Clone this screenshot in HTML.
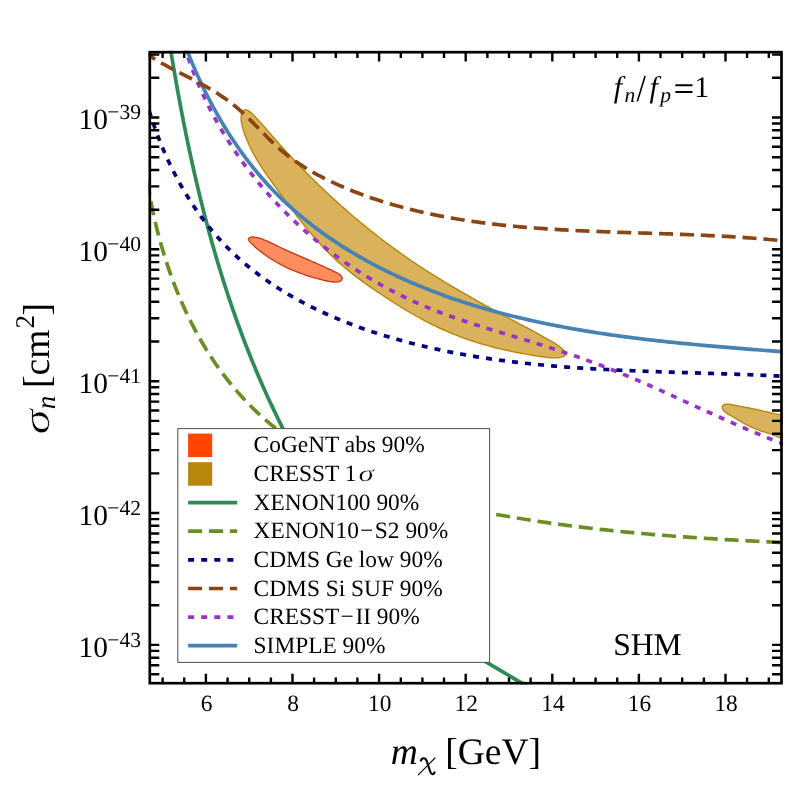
<!DOCTYPE html>
<html><head><meta charset="utf-8"><title>plot</title>
<style>html,body{margin:0;padding:0;background:#fff;}svg{display:block;will-change:transform;transform:translateZ(0);}text{text-rendering:geometricPrecision;}text{font-family:"Liberation Serif",serif;fill:#000;}</style>
</head><body>
<svg width="789" height="789" viewBox="0 0 789 789">
<rect width="789" height="789" fill="#fff"/>
<defs><clipPath id="cp"><rect x="148.4" y="50.8" width="634.5" height="633.8"/></clipPath></defs>
<g clip-path="url(#cp)" fill="none" stroke-linecap="butt" stroke-linejoin="round">
<path d="M244.17 109.95 L246.03 109.71 L248.18 110.60 L250.51 112.32 L252.94 114.57 L255.35 117.05 L257.68 119.53 L259.91 121.95 L262.05 124.32 L264.13 126.64 L266.14 128.92 L268.11 131.17 L270.05 133.40 L271.96 135.61 L273.87 137.80 L275.78 140.00 L277.71 142.19 L279.66 144.38 L281.62 146.57 L283.60 148.77 L285.60 150.96 L287.62 153.15 L289.64 155.34 L291.69 157.52 L293.74 159.71 L295.81 161.89 L297.89 164.06 L299.99 166.23 L302.09 168.40 L304.20 170.56 L306.33 172.71 L308.46 174.85 L310.60 176.99 L312.74 179.11 L314.90 181.23 L317.06 183.34 L319.23 185.44 L321.40 187.52 L323.58 189.60 L325.77 191.67 L327.97 193.74 L330.17 195.79 L332.38 197.83 L334.60 199.86 L336.82 201.88 L339.06 203.89 L341.30 205.90 L343.54 207.89 L345.80 209.87 L348.06 211.85 L350.33 213.81 L352.61 215.76 L354.89 217.70 L357.18 219.64 L359.48 221.56 L361.79 223.47 L364.11 225.37 L366.43 227.27 L368.76 229.15 L371.10 231.02 L373.45 232.88 L375.81 234.73 L378.17 236.57 L380.54 238.40 L382.92 240.22 L385.31 242.03 L387.71 243.83 L390.11 245.61 L392.52 247.39 L394.94 249.16 L397.37 250.91 L399.81 252.66 L402.26 254.39 L404.71 256.11 L407.18 257.82 L409.65 259.52 L412.13 261.21 L414.62 262.89 L417.12 264.56 L419.62 266.22 L422.14 267.86 L424.66 269.50 L427.19 271.13 L429.72 272.74 L432.26 274.35 L434.81 275.95 L437.37 277.54 L439.93 279.12 L442.50 280.69 L445.07 282.25 L447.64 283.80 L450.23 285.35 L452.81 286.89 L455.41 288.42 L458.00 289.94 L460.60 291.45 L463.20 292.96 L465.81 294.46 L468.42 295.95 L471.04 297.44 L473.65 298.92 L476.27 300.39 L478.89 301.86 L481.51 303.32 L484.14 304.78 L486.76 306.23 L489.39 307.67 L492.02 309.11 L494.65 310.55 L497.28 311.97 L499.91 313.40 L502.54 314.82 L505.17 316.24 L507.80 317.65 L510.43 319.06 L513.06 320.46 L515.68 321.86 L518.31 323.26 L520.93 324.65 L523.55 326.05 L526.18 327.44 L528.80 328.84 L531.43 330.24 L534.07 331.66 L536.72 333.10 L539.38 334.55 L542.05 336.02 L544.73 337.52 L547.44 339.05 L550.16 340.61 L552.90 342.20 L555.63 343.86 L558.26 345.60 L560.74 347.46 L562.99 349.48 L564.77 351.59 L565.61 353.60 L565.12 355.31 L563.32 356.57 L560.56 357.34 L557.36 357.73 L554.17 357.84 L551.05 357.74 L547.98 357.48 L544.95 357.12 L541.94 356.71 L538.93 356.28 L535.93 355.83 L532.94 355.37 L529.95 354.88 L526.96 354.38 L523.99 353.85 L521.02 353.31 L518.06 352.75 L515.10 352.16 L512.16 351.56 L509.22 350.94 L506.28 350.29 L503.36 349.62 L500.44 348.93 L497.53 348.22 L494.62 347.48 L491.73 346.72 L488.84 345.94 L485.96 345.14 L483.09 344.31 L480.23 343.46 L477.38 342.58 L474.53 341.67 L471.70 340.75 L468.87 339.79 L466.05 338.81 L463.24 337.80 L460.44 336.77 L457.65 335.71 L454.87 334.62 L452.09 333.51 L449.33 332.36 L446.58 331.19 L443.84 329.99 L441.10 328.76 L438.38 327.50 L435.67 326.22 L432.96 324.90 L430.27 323.56 L427.59 322.20 L424.92 320.81 L422.26 319.39 L419.60 317.95 L416.96 316.49 L414.33 315.01 L411.71 313.51 L409.10 311.99 L406.50 310.45 L403.91 308.90 L401.33 307.33 L398.76 305.74 L396.20 304.14 L393.65 302.53 L391.11 300.90 L388.58 299.26 L386.06 297.61 L383.55 295.96 L381.05 294.29 L378.57 292.61 L376.09 290.93 L373.62 289.24 L371.17 287.55 L368.72 285.84 L366.29 284.12 L363.87 282.40 L361.47 280.65 L359.08 278.89 L356.70 277.12 L354.35 275.32 L352.01 273.51 L349.68 271.67 L347.38 269.81 L345.10 267.93 L342.83 266.02 L340.59 264.08 L338.36 262.11 L336.16 260.11 L333.99 258.08 L331.83 256.01 L329.69 253.92 L327.58 251.80 L325.49 249.65 L323.41 247.48 L321.36 245.28 L319.33 243.06 L317.31 240.82 L315.31 238.56 L313.33 236.27 L311.36 233.97 L309.42 231.66 L307.48 229.32 L305.57 226.98 L303.66 224.62 L301.77 222.24 L299.90 219.86 L298.04 217.47 L296.19 215.07 L294.35 212.66 L292.53 210.25 L290.71 207.84 L288.91 205.42 L287.12 203.00 L285.34 200.58 L283.56 198.16 L281.80 195.74 L280.04 193.32 L278.29 190.91 L276.54 188.51 L274.81 186.11 L273.08 183.72 L271.36 181.34 L269.65 178.95 L267.95 176.56 L266.27 174.16 L264.61 171.75 L262.97 169.32 L261.36 166.87 L259.77 164.40 L258.22 161.90 L256.69 159.36 L255.20 156.79 L253.74 154.18 L252.33 151.52 L250.95 148.82 L249.63 146.06 L248.35 143.24 L247.11 140.37 L245.94 137.43 L244.81 134.41 L243.75 131.33 L242.77 128.20 L241.96 125.07 L241.37 122.00 L241.08 119.05 L241.16 116.26 L241.68 113.69 L242.69 111.44Z" fill="#DAB25B" stroke="#B8860B" stroke-width="1.4"/>
<path d="M722.16 406.69 L723.53 404.88 L726.04 404.11 L729.11 404.23 L732.43 404.83 L735.72 405.49 L738.90 406.10 L741.99 406.68 L745.00 407.23 L747.95 407.78 L750.86 408.33 L753.74 408.91 L756.61 409.51 L759.49 410.16 L762.39 410.85 L765.32 411.57 L768.27 412.28 L771.26 412.96 L774.29 413.59 L777.37 414.14 L780.50 414.58 L783.68 414.89 L786.86 415.17 L789.91 415.65 L792.69 416.61 L795.07 418.28 L796.95 420.84 L798.30 424.08 L799.13 427.75 L799.47 431.58 L799.30 435.31 L798.65 438.68 L797.51 441.42 L795.90 443.28 L793.82 444.00 L791.34 443.63 L788.56 442.49 L785.60 440.89 L782.56 439.18 L779.54 437.64 L776.55 436.29 L773.61 435.10 L770.70 434.04 L767.83 433.07 L764.99 432.15 L762.19 431.24 L759.41 430.30 L756.68 429.31 L753.97 428.22 L751.28 427.01 L748.61 425.70 L745.95 424.31 L743.28 422.84 L740.59 421.31 L737.87 419.73 L735.12 418.13 L732.31 416.50 L729.45 414.87 L726.66 413.19 L724.27 411.31 L722.60 409.09Z" fill="#DAB25B" stroke="#B8860B" stroke-width="1.4"/>
<path d="M248.42 239.02 L249.81 237.37 L252.57 236.88 L255.95 237.33 L259.34 238.20 L262.42 239.19 L265.25 240.29 L267.92 241.46 L270.50 242.68 L273.07 243.94 L275.70 245.21 L278.39 246.49 L281.13 247.77 L283.91 249.06 L286.72 250.34 L289.54 251.62 L292.37 252.89 L295.20 254.14 L298.01 255.38 L300.80 256.60 L303.55 257.79 L306.25 258.96 L308.92 260.11 L311.58 261.25 L314.23 262.40 L316.89 263.56 L319.58 264.75 L322.30 265.96 L325.08 267.23 L327.93 268.55 L330.86 269.93 L333.89 271.39 L336.97 272.93 L339.73 274.59 L341.68 276.40 L342.33 278.40 L341.32 280.48 L338.94 281.81 L335.76 282.08 L332.31 281.77 L329.05 281.29 L326.00 280.75 L323.10 280.14 L320.28 279.47 L317.47 278.74 L314.64 277.95 L311.78 277.11 L308.91 276.21 L306.03 275.26 L303.15 274.26 L300.28 273.21 L297.42 272.12 L294.58 270.97 L291.77 269.79 L288.99 268.56 L286.25 267.29 L283.55 265.97 L280.89 264.61 L278.27 263.20 L275.68 261.73 L273.13 260.20 L270.60 258.62 L268.10 256.97 L265.63 255.26 L263.18 253.47 L260.76 251.61 L258.35 249.68 L255.96 247.66 L253.58 245.56 L251.22 243.37 L249.15 241.14Z" fill="#FF8C5E" stroke="#C23A0C" stroke-width="1.3"/>
<path d="M182.89 41.20 L183.77 44.15 L184.68 47.09 L185.60 50.02 L186.56 52.93 L187.53 55.84 L188.52 58.74 L189.54 61.63 L190.58 64.50 L191.64 67.37 L192.72 70.22 L193.82 73.07 L194.94 75.90 L196.09 78.73 L197.25 81.54 L198.44 84.34 L199.65 87.13 L200.87 89.91 L202.12 92.68 L203.39 95.43 L204.68 98.18 L205.99 100.91 L207.32 103.63 L208.67 106.35 L210.04 109.04 L211.43 111.73 L212.84 114.41 L214.27 117.07 L215.71 119.72 L217.18 122.36 L218.67 124.99 L220.17 127.61 L221.70 130.21 L223.24 132.80 L224.80 135.38 L226.38 137.95 L227.98 140.50 L229.60 143.04 L231.23 145.57 L232.89 148.09 L234.56 150.59 L236.25 153.08 L237.96 155.56 L239.68 158.02 L241.42 160.47 L243.18 162.91 L244.96 165.33 L246.75 167.74 L248.57 170.14 L250.39 172.52 L252.24 174.90 L254.10 177.25 L255.98 179.60 L257.87 181.92 L259.79 184.24 L261.71 186.54 L263.66 188.83 L265.62 191.10 L267.59 193.36 L269.58 195.61 L271.59 197.84 L273.61 200.05 L275.65 202.26 L277.71 204.44 L279.77 206.61 L281.86 208.77 L283.96 210.92 L286.07 213.04 L288.20 215.16 L290.34 217.26 L292.50 219.34 L294.67 221.41 L296.86 223.46 L299.06 225.50 L301.27 227.52 L303.50 229.53 L305.75 231.52 L308.00 233.49 L310.27 235.45 L312.55 237.40 L314.85 239.33 L317.16 241.24 L319.48 243.14 L321.82 245.02 L324.17 246.88 L326.53 248.73 L328.90 250.56 L331.29 252.38 L333.69 254.18 L336.10 255.96 L338.53 257.72 L340.96 259.47 L343.41 261.21 L345.87 262.92 L348.34 264.62 L350.82 266.30 L353.32 267.97 L355.82 269.62 L358.34 271.25 L360.87 272.86 L363.41 274.46 L365.96 276.04 L368.52 277.60 L371.09 279.14 L373.68 280.67 L376.27 282.18 L378.87 283.67 L381.49 285.14 L384.11 286.60 L386.74 288.03 L389.39 289.45 L392.04 290.85 L394.70 292.24 L397.38 293.60 L400.06 294.95 L402.75 296.28 L405.45 297.59 L408.16 298.88 L410.88 300.15 L413.60 301.40 L416.34 302.64 L419.08 303.85 L421.84 305.05 L424.60 306.23 L427.37 307.38 L430.15 308.52 L432.93 309.64 L435.73 310.75 L438.53 311.83 L441.33 312.90 L444.15 313.95 L446.97 314.99 L449.80 316.01 L452.63 317.02 L455.47 318.01 L458.31 318.99 L461.16 319.96 L464.01 320.92 L466.87 321.87 L469.73 322.81 L472.60 323.74 L475.47 324.66 L478.34 325.58 L481.21 326.48 L484.09 327.38 L486.97 328.28 L489.85 329.17 L492.73 330.05 L495.61 330.93 L498.50 331.81 L501.38 332.69 L504.27 333.56 L507.15 334.44 L510.04 335.31 L512.92 336.19 L515.80 337.06 L518.69 337.94 L521.57 338.82 L524.45 339.70 L527.32 340.59 L530.20 341.48 L533.08 342.37 L535.95 343.27 L538.82 344.17 L541.69 345.07 L544.56 345.98 L547.42 346.90 L550.28 347.81 L553.14 348.74 L556.00 349.67 L558.86 350.61 L561.71 351.55 L564.56 352.50 L567.41 353.46 L570.25 354.42 L573.09 355.39 L575.93 356.37 L578.77 357.36 L581.60 358.35 L584.42 359.36 L587.25 360.37 L590.07 361.39 L592.89 362.43 L595.70 363.47 L598.51 364.52 L601.32 365.58 L604.12 366.66 L606.91 367.74 L609.71 368.83 L612.50 369.94 L615.28 371.05 L618.06 372.18 L620.84 373.31 L623.62 374.45 L626.39 375.60 L629.16 376.76 L631.93 377.92 L634.69 379.09 L637.45 380.27 L640.21 381.46 L642.97 382.65 L645.72 383.85 L648.47 385.06 L651.22 386.26 L653.97 387.48 L656.72 388.70 L659.46 389.92 L662.21 391.15 L664.95 392.38 L667.69 393.62 L670.43 394.85 L673.17 396.09 L675.91 397.34 L678.65 398.58 L681.39 399.83 L684.12 401.08 L686.86 402.32 L689.60 403.57 L692.34 404.82 L695.07 406.07 L697.81 407.32 L700.55 408.57 L703.29 409.82 L706.03 411.07 L708.77 412.31 L711.51 413.55 L714.26 414.80 L717.00 416.03 L719.75 417.27 L722.49 418.50 L725.24 419.73 L727.99 420.95 L730.75 422.17 L733.50 423.39 L736.26 424.60 L739.02 425.80 L741.78 427.00 L744.55 428.20 L747.31 429.38 L750.08 430.56 L752.86 431.74 L755.63 432.90 L758.41 434.06 L761.20 435.21 L763.98 436.35 L766.78 437.49 L769.57 438.61 L772.37 439.73 L775.17 440.83 L777.98 441.93 L780.79 443.02 L783.61 444.09 L786.43 445.15 L789.25 446.21 L792.08 447.25" stroke="#9932CC" stroke-width="3.7" stroke-dasharray="6 7.1" stroke-dashoffset="-4.0"/>
<path d="M182.08 37.16 L183.11 39.99 L184.16 42.82 L185.22 45.65 L186.30 48.47 L187.40 51.29 L188.51 54.10 L189.63 56.91 L190.78 59.72 L191.94 62.51 L193.12 65.31 L194.31 68.09 L195.52 70.87 L196.75 73.65 L197.99 76.41 L199.25 79.17 L200.53 81.92 L201.83 84.67 L203.14 87.40 L204.47 90.13 L205.81 92.85 L207.18 95.56 L208.56 98.27 L209.96 100.96 L211.37 103.64 L212.80 106.31 L214.25 108.98 L215.72 111.63 L217.20 114.27 L218.71 116.90 L220.23 119.52 L221.76 122.13 L223.32 124.72 L224.89 127.31 L226.48 129.88 L228.09 132.43 L229.71 134.98 L231.36 137.51 L233.02 140.03 L234.70 142.54 L236.40 145.03 L238.11 147.50 L239.85 149.96 L241.60 152.41 L243.37 154.84 L245.16 157.26 L246.97 159.66 L248.79 162.04 L250.63 164.41 L252.50 166.76 L254.38 169.10 L256.28 171.41 L258.20 173.71 L260.13 175.99 L262.09 178.26 L264.06 180.50 L266.05 182.73 L268.07 184.94 L270.10 187.13 L272.15 189.30 L274.22 191.45 L276.30 193.58 L278.41 195.69 L280.53 197.78 L282.67 199.86 L284.83 201.91 L287.01 203.95 L289.20 205.97 L291.41 207.96 L293.64 209.94 L295.88 211.90 L298.15 213.85 L300.42 215.77 L302.71 217.68 L305.02 219.56 L307.35 221.43 L309.68 223.28 L312.04 225.11 L314.41 226.93 L316.79 228.73 L319.19 230.51 L321.60 232.27 L324.03 234.01 L326.46 235.74 L328.92 237.44 L331.38 239.13 L333.86 240.81 L336.35 242.46 L338.86 244.10 L341.37 245.73 L343.90 247.33 L346.44 248.92 L349.00 250.49 L351.56 252.04 L354.13 253.58 L356.72 255.10 L359.32 256.60 L361.92 258.09 L364.54 259.56 L367.17 261.02 L369.81 262.45 L372.45 263.88 L375.11 265.28 L377.78 266.67 L380.45 268.05 L383.13 269.40 L385.83 270.75 L388.53 272.07 L391.24 273.38 L393.95 274.68 L396.68 275.96 L399.41 277.22 L402.15 278.47 L404.89 279.70 L407.64 280.92 L410.40 282.12 L413.17 283.31 L415.94 284.48 L418.72 285.64 L421.50 286.78 L424.29 287.91 L427.08 289.03 L429.88 290.12 L432.69 291.21 L435.50 292.28 L438.31 293.33 L441.13 294.38 L443.95 295.40 L446.78 296.42 L449.61 297.42 L452.45 298.40 L455.29 299.38 L458.14 300.34 L460.99 301.28 L463.84 302.22 L466.70 303.14 L469.56 304.04 L472.43 304.94 L475.30 305.82 L478.18 306.69 L481.06 307.55 L483.94 308.39 L486.83 309.22 L489.72 310.05 L492.61 310.85 L495.51 311.65 L498.41 312.44 L501.31 313.21 L504.22 313.97 L507.13 314.72 L510.05 315.46 L512.97 316.19 L515.89 316.91 L518.81 317.61 L521.74 318.31 L524.67 319.00 L527.60 319.67 L530.54 320.33 L533.48 320.99 L536.42 321.63 L539.36 322.27 L542.31 322.89 L545.26 323.51 L548.21 324.11 L551.16 324.71 L554.12 325.29 L557.08 325.87 L560.04 326.44 L563.00 327.00 L565.96 327.55 L568.93 328.09 L571.90 328.62 L574.87 329.14 L577.84 329.66 L580.82 330.17 L583.79 330.66 L586.77 331.16 L589.75 331.64 L592.73 332.11 L595.71 332.58 L598.69 333.04 L601.67 333.49 L604.66 333.94 L607.65 334.38 L610.63 334.81 L613.62 335.23 L616.61 335.65 L619.60 336.06 L622.59 336.46 L625.58 336.86 L628.58 337.25 L631.57 337.64 L634.56 338.01 L637.56 338.39 L640.55 338.75 L643.55 339.11 L646.54 339.47 L649.54 339.82 L652.53 340.16 L655.53 340.50 L658.53 340.84 L661.52 341.17 L664.52 341.49 L667.51 341.81 L670.51 342.13 L673.50 342.44 L676.50 342.74 L679.49 343.04 L682.49 343.34 L685.48 343.63 L688.47 343.92 L691.46 344.21 L694.45 344.49 L697.44 344.77 L700.43 345.04 L703.42 345.32 L706.41 345.58 L709.40 345.85 L712.38 346.11 L715.37 346.37 L718.35 346.63 L721.33 346.88 L724.31 347.13 L727.29 347.38 L730.27 347.63 L733.24 347.88 L736.22 348.12 L739.19 348.36 L742.16 348.60 L745.13 348.84 L748.09 349.07 L751.06 349.31 L754.02 349.54 L756.98 349.77 L759.94 350.01 L762.90 350.24 L765.85 350.47 L768.80 350.69 L771.75 350.92 L774.70 351.15 L777.64 351.38 L780.59 351.61 L783.52 351.83 L786.46 352.06 L789.39 352.29" stroke="#4682B4" stroke-width="3.7"/>
<path d="M168.40 36.06 L168.87 39.02 L169.34 41.98 L169.82 44.94 L170.30 47.89 L170.79 50.85 L171.27 53.81 L171.77 56.77 L172.26 59.73 L172.76 62.69 L173.26 65.65 L173.77 68.60 L174.28 71.56 L174.79 74.52 L175.30 77.48 L175.82 80.44 L176.35 83.39 L176.88 86.35 L177.41 89.31 L177.94 92.26 L178.48 95.22 L179.03 98.17 L179.58 101.13 L180.13 104.08 L180.69 107.03 L181.25 109.99 L181.81 112.94 L182.38 115.89 L182.96 118.84 L183.54 121.79 L184.12 124.74 L184.71 127.69 L185.30 130.64 L185.90 133.58 L186.50 136.53 L187.10 139.47 L187.72 142.42 L188.33 145.36 L188.95 148.30 L189.58 151.25 L190.21 154.19 L190.85 157.12 L191.49 160.06 L192.14 163.00 L192.79 165.94 L193.45 168.87 L194.11 171.80 L194.78 174.73 L195.45 177.67 L196.13 180.59 L196.82 183.52 L197.51 186.45 L198.20 189.37 L198.90 192.30 L199.61 195.22 L200.32 198.14 L201.04 201.06 L201.77 203.98 L202.50 206.89 L203.24 209.81 L203.98 212.72 L204.73 215.63 L205.48 218.54 L206.25 221.45 L207.01 224.35 L207.79 227.26 L208.57 230.16 L209.36 233.06 L210.15 235.95 L210.95 238.85 L211.76 241.74 L212.57 244.64 L213.39 247.53 L214.22 250.41 L215.05 253.30 L215.89 256.18 L216.74 259.07 L217.59 261.95 L218.45 264.82 L219.32 267.70 L220.20 270.57 L221.08 273.44 L221.97 276.31 L222.86 279.17 L223.77 282.04 L224.68 284.90 L225.60 287.76 L226.52 290.61 L227.46 293.46 L228.40 296.31 L229.35 299.16 L230.30 302.01 L231.27 304.85 L232.24 307.69 L233.22 310.53 L234.21 313.36 L235.20 316.19 L236.20 319.02 L237.22 321.85 L238.23 324.67 L239.26 327.49 L240.30 330.31 L241.34 333.12 L242.39 335.94 L243.45 338.74 L244.52 341.55 L245.60 344.35 L246.68 347.15 L247.78 349.95 L248.88 352.74 L249.99 355.53 L251.11 358.31 L252.24 361.10 L253.38 363.88 L254.52 366.65 L255.68 369.43 L256.84 372.20 L258.01 374.96 L259.19 377.72 L260.38 380.48 L261.58 383.24 L262.79 385.99 L264.01 388.74 L265.24 391.49 L266.48 394.23 L267.72 396.96 L268.98 399.70 L270.24 402.43 L271.52 405.15 L272.80 407.88 L274.09 410.60 L275.40 413.31 L276.71 416.02 L278.03 418.73 L279.36 421.43 L280.71 424.13 L282.06 426.83 L283.42 429.52 L284.79 432.20 L286.18 434.89 L287.57 437.57 L288.97 440.24 L290.38 442.91" stroke="#2E8B57" stroke-width="3.7"/>
<path d="M460.0 646.7L545.0 696.8" stroke="#2E8B57" stroke-width="3.7"/>
<path d="M146.17 172.34 L146.57 175.24 L146.98 178.14 L147.41 181.05 L147.86 183.95 L148.33 186.86 L148.81 189.77 L149.31 192.69 L149.82 195.60 L150.35 198.52 L150.90 201.43 L151.47 204.35 L152.05 207.26 L152.65 210.18 L153.27 213.10 L153.90 216.01 L154.55 218.92 L155.23 221.84 L155.91 224.75 L156.62 227.66 L157.34 230.57 L158.08 233.47 L158.84 236.38 L159.62 239.28 L160.41 242.17 L161.23 245.07 L162.06 247.96 L162.91 250.84 L163.78 253.72 L164.66 256.60 L165.57 259.47 L166.49 262.34 L167.44 265.20 L168.40 268.06 L169.38 270.90 L170.38 273.75 L171.40 276.58 L172.44 279.41 L173.50 282.24 L174.57 285.05 L175.67 287.86 L176.78 290.66 L177.92 293.45 L179.07 296.23 L180.25 299.01 L181.44 301.77 L182.66 304.53 L183.89 307.27 L185.15 310.01 L186.42 312.74 L187.71 315.45 L189.03 318.16 L190.37 320.85 L191.72 323.53 L193.10 326.20 L194.49 328.86 L195.91 331.51 L197.35 334.14 L198.81 336.76 L200.29 339.37 L201.79 341.96 L203.31 344.54 L204.86 347.11 L206.42 349.66 L208.01 352.20 L209.62 354.72 L211.24 357.23 L212.89 359.73 L214.57 362.20 L216.26 364.67 L217.98 367.11 L219.71 369.54 L221.47 371.95 L223.26 374.35 L225.06 376.73 L226.89 379.09 L228.73 381.43 L230.61 383.75 L232.50 386.06 L234.41 388.35 L236.35 390.61 L238.31 392.86 L240.30 395.09 L242.30 397.30 L244.33 399.49 L246.39 401.66 L248.46 403.81 L250.56 405.94 L252.68 408.04 L254.83 410.13 L257.00 412.19 L259.19 414.23 L261.41 416.25 L263.65 418.25 L265.91 420.22 L268.20 422.17 L270.51 424.09 L272.84 426.00 L275.20 427.87 L277.59 429.73 L280.00 431.56 L282.43 433.36 L284.88 435.14 L287.36 436.89 L289.87 438.62 L292.40 440.32 L294.95 442.00 L297.53 443.65 L300.14 445.27" stroke="#6B8E23" stroke-width="3.7" stroke-dasharray="14 6.9" stroke-dashoffset="-8.6"/>
<path d="M491.98 513.62 L494.95 514.16 L497.93 514.71 L500.92 515.24 L503.90 515.77 L506.88 516.29 L509.87 516.80 L512.85 517.30 L515.84 517.80 L518.82 518.30 L521.81 518.78 L524.80 519.26 L527.79 519.74 L530.78 520.20 L533.77 520.66 L536.77 521.12 L539.76 521.56 L542.75 522.01 L545.75 522.44 L548.75 522.87 L551.74 523.29 L554.74 523.71 L557.74 524.12 L560.74 524.53 L563.74 524.93 L566.74 525.32 L569.74 525.71 L572.74 526.10 L575.74 526.47 L578.75 526.84 L581.75 527.21 L584.76 527.57 L587.76 527.93 L590.77 528.28 L593.78 528.63 L596.78 528.97 L599.79 529.30 L602.80 529.63 L605.81 529.96 L608.82 530.28 L611.83 530.59 L614.84 530.90 L617.85 531.21 L620.87 531.51 L623.88 531.81 L626.89 532.10 L629.90 532.39 L632.92 532.67 L635.93 532.95 L638.95 533.23 L641.96 533.50 L644.98 533.77 L648.00 534.03 L651.01 534.29 L654.03 534.54 L657.05 534.79 L660.06 535.04 L663.08 535.28 L666.10 535.52 L669.12 535.76 L672.14 535.99 L675.16 536.22 L678.18 536.44 L681.20 536.67 L684.22 536.88 L687.24 537.10 L690.26 537.31 L693.28 537.52 L696.30 537.72 L699.32 537.93 L702.34 538.13 L705.36 538.32 L708.39 538.52 L711.41 538.71 L714.43 538.89 L717.45 539.08 L720.47 539.26 L723.50 539.44 L726.52 539.62 L729.54 539.79 L732.56 539.97 L735.59 540.14 L738.61 540.30 L741.63 540.47 L744.65 540.63 L747.68 540.79 L750.70 540.95 L753.72 541.11 L756.74 541.26 L759.77 541.42 L762.79 541.57 L765.81 541.72 L768.83 541.87 L771.85 542.01 L774.88 542.16 L777.90 542.30 L780.92 542.44 L783.94 542.58 L786.96 542.72 L789.98 542.86" stroke="#6B8E23" stroke-width="3.7" stroke-dasharray="14 6.9" stroke-dashoffset="16.6"/>
<path d="M146.07 99.83 L146.86 102.67 L147.67 105.52 L148.50 108.36 L149.35 111.21 L150.23 114.05 L151.14 116.89 L152.06 119.74 L153.02 122.58 L153.99 125.42 L154.99 128.25 L156.01 131.09 L157.06 133.92 L158.13 136.74 L159.22 139.56 L160.34 142.37 L161.48 145.18 L162.64 147.98 L163.83 150.78 L165.04 153.57 L166.28 156.34 L167.54 159.11 L168.82 161.88 L170.13 164.63 L171.46 167.37 L172.81 170.10 L174.19 172.82 L175.59 175.52 L177.01 178.22 L178.46 180.90 L179.93 183.57 L181.42 186.22 L182.94 188.86 L184.48 191.49 L186.05 194.10 L187.63 196.69 L189.25 199.27 L190.88 201.83 L192.54 204.37 L194.22 206.89 L195.92 209.40 L197.65 211.88 L199.40 214.35 L201.18 216.79 L202.97 219.22 L204.80 221.62 L206.64 224.00 L208.51 226.36 L210.40 228.70 L212.31 231.01 L214.25 233.30 L216.21 235.56 L218.19 237.80 L220.20 240.01 L222.23 242.20 L224.28 244.36 L226.35 246.50 L228.45 248.61 L230.57 250.70 L232.70 252.76 L234.86 254.79 L237.05 256.81 L239.25 258.79 L241.47 260.76 L243.71 262.70 L245.97 264.61 L248.25 266.50 L250.55 268.37 L252.87 270.22 L255.21 272.04 L257.57 273.84 L259.94 275.61 L262.33 277.36 L264.74 279.10 L267.17 280.80 L269.61 282.49 L272.07 284.15 L274.54 285.79 L277.03 287.41 L279.54 289.01 L282.06 290.59 L284.60 292.14 L287.15 293.68 L289.72 295.19 L292.30 296.68 L294.89 298.15 L297.50 299.61 L300.12 301.04 L302.75 302.45 L305.40 303.84 L308.06 305.21 L310.73 306.56 L313.41 307.89 L316.11 309.21 L318.81 310.50 L321.53 311.77 L324.26 313.03 L326.99 314.27 L329.74 315.48 L332.50 316.68 L335.27 317.87 L338.04 319.03 L340.83 320.18 L343.62 321.30 L346.42 322.41 L349.23 323.51 L352.05 324.58 L354.88 325.64 L357.71 326.68 L360.55 327.71 L363.39 328.72 L366.25 329.71 L369.10 330.69 L371.97 331.65 L374.84 332.59 L377.71 333.52 L380.59 334.43 L383.47 335.33 L386.36 336.21 L389.25 337.08 L392.15 337.93 L395.05 338.77 L397.95 339.59 L400.85 340.40 L403.76 341.19 L406.67 341.97 L409.58 342.74 L412.50 343.49 L415.41 344.22 L418.33 344.95 L421.26 345.66 L424.18 346.36 L427.11 347.04 L430.04 347.71 L432.97 348.37 L435.91 349.02 L438.84 349.65 L441.78 350.27 L444.72 350.88 L447.67 351.48 L450.61 352.06 L453.56 352.63 L456.51 353.19 L459.46 353.74 L462.42 354.28 L465.37 354.81 L468.33 355.32 L471.29 355.83 L474.25 356.32 L477.21 356.80 L480.18 357.28 L483.15 357.74 L486.11 358.19 L489.08 358.63 L492.06 359.06 L495.03 359.49 L498.01 359.90 L500.98 360.30 L503.96 360.69 L506.94 361.08 L509.92 361.45 L512.90 361.82 L515.89 362.18 L518.87 362.52 L521.86 362.86 L524.85 363.20 L527.84 363.52 L530.83 363.83 L533.82 364.14 L536.81 364.44 L539.81 364.73 L542.80 365.02 L545.80 365.29 L548.80 365.56 L551.79 365.83 L554.79 366.08 L557.79 366.33 L560.79 366.57 L563.79 366.81 L566.80 367.04 L569.80 367.26 L572.80 367.48 L575.81 367.69 L578.81 367.89 L581.82 368.09 L584.82 368.29 L587.83 368.48 L590.84 368.66 L593.85 368.84 L596.85 369.01 L599.86 369.18 L602.87 369.35 L605.88 369.51 L608.89 369.66 L611.90 369.81 L614.91 369.96 L617.92 370.11 L620.93 370.25 L623.94 370.38 L626.95 370.51 L629.96 370.64 L632.97 370.77 L635.99 370.89 L639.00 371.01 L642.01 371.13 L645.02 371.25 L648.03 371.36 L651.04 371.47 L654.05 371.58 L657.06 371.68 L660.07 371.79 L663.08 371.89 L666.09 371.99 L669.09 372.09 L672.10 372.19 L675.11 372.28 L678.12 372.38 L681.12 372.48 L684.13 372.57 L687.13 372.66 L690.14 372.76 L693.14 372.85 L696.15 372.94 L699.15 373.04 L702.15 373.13 L705.15 373.22 L708.15 373.32 L711.15 373.41 L714.15 373.51 L717.15 373.60 L720.14 373.70 L723.14 373.80 L726.13 373.90 L729.12 374.00 L732.12 374.10 L735.11 374.21 L738.10 374.31 L741.09 374.42 L744.07 374.53 L747.06 374.65 L750.04 374.76 L753.03 374.88 L756.01 375.00 L758.99 375.12 L761.97 375.25 L764.95 375.38 L767.92 375.51 L770.90 375.65 L773.87 375.79 L776.84 375.94 L779.81 376.08 L782.78 376.24 L785.74 376.39 L788.71 376.55 L791.67 376.72" stroke="#000080" stroke-width="3.7" stroke-dasharray="6 7.1" stroke-dashoffset="2.0"/>
<path d="M140.22 48.66 L142.58 50.55 L144.98 52.38 L147.41 54.15 L149.88 55.87 L152.38 57.53 L154.91 59.15 L157.47 60.72 L160.05 62.26 L162.65 63.76 L165.28 65.22 L167.92 66.67 L170.57 68.08 L173.24 69.48 L175.91 70.86 L178.59 72.23 L181.28 73.60 L183.97 74.95 L186.66 76.31 L189.34 77.67 L192.02 79.04 L194.69 80.43 L197.35 81.82 L199.99 83.24 L202.62 84.68 L205.24 86.13 L207.84 87.61 L210.42 89.12 L212.98 90.65 L215.52 92.22 L218.04 93.81 L220.53 95.44 L223.00 97.09 L225.44 98.79 L227.85 100.52 L230.24 102.29 L232.59 104.10 L234.91 105.96 L237.20 107.86 L239.45 109.80 L241.68 111.79 L243.87 113.81 L246.04 115.87 L248.19 117.95 L250.33 120.06 L252.45 122.18 L254.56 124.32 L256.67 126.47 L258.77 128.62 L260.88 130.77 L262.99 132.92 L265.11 135.07 L267.23 137.20 L269.37 139.32 L271.53 141.42 L273.70 143.50 L275.90 145.54 L278.12 147.56 L280.37 149.55 L282.65 151.49 L284.97 153.40 L287.31 155.26 L289.69 157.09 L292.09 158.88 L294.53 160.63 L296.99 162.34 L299.48 164.02 L301.99 165.66 L304.53 167.26 L307.09 168.84 L309.67 170.38 L312.28 171.88 L314.90 173.36 L317.54 174.81 L320.20 176.22 L322.88 177.61 L325.57 178.97 L328.28 180.30 L331.00 181.60 L333.74 182.88 L336.48 184.13 L339.24 185.36 L342.00 186.56 L344.78 187.75 L347.56 188.91 L350.35 190.04 L353.14 191.16 L355.94 192.26 L358.75 193.33 L361.57 194.38 L364.39 195.42 L367.21 196.43 L370.04 197.42 L372.88 198.40 L375.73 199.35 L378.58 200.29 L381.43 201.20 L384.29 202.10 L387.16 202.98 L390.03 203.84 L392.91 204.68 L395.79 205.50 L398.67 206.30 L401.57 207.09 L404.46 207.86 L407.36 208.62 L410.27 209.35 L413.18 210.07 L416.09 210.78 L419.01 211.46 L421.93 212.13 L424.86 212.79 L427.79 213.43 L430.73 214.05 L433.66 214.66 L436.61 215.26 L439.55 215.84 L442.50 216.40 L445.45 216.96 L448.41 217.49 L451.36 218.02 L454.33 218.53 L457.29 219.03 L460.26 219.51 L463.23 219.98 L466.20 220.44 L469.17 220.88 L472.15 221.32 L475.13 221.74 L478.11 222.15 L481.09 222.55 L484.08 222.94 L487.07 223.31 L490.06 223.68 L493.05 224.04 L496.04 224.38 L499.03 224.72 L502.03 225.04 L505.02 225.36 L508.02 225.66 L511.02 225.96 L514.02 226.24 L517.02 226.52 L520.02 226.79 L523.02 227.06 L526.02 227.31 L529.02 227.55 L532.03 227.79 L535.03 228.02 L538.03 228.25 L541.04 228.46 L544.04 228.67 L547.04 228.88 L550.04 229.07 L553.05 229.26 L556.05 229.45 L559.05 229.63 L562.05 229.80 L565.05 229.97 L568.06 230.13 L571.06 230.29 L574.06 230.44 L577.06 230.59 L580.06 230.73 L583.06 230.87 L586.07 231.01 L589.07 231.14 L592.07 231.27 L595.07 231.39 L598.07 231.51 L601.07 231.63 L604.07 231.75 L607.07 231.86 L610.08 231.97 L613.08 232.08 L616.08 232.19 L619.08 232.29 L622.08 232.39 L625.08 232.49 L628.08 232.59 L631.08 232.69 L634.08 232.79 L637.08 232.89 L640.08 232.98 L643.08 233.08 L646.08 233.18 L649.08 233.27 L652.08 233.37 L655.08 233.47 L658.08 233.57 L661.08 233.66 L664.08 233.76 L667.08 233.87 L670.08 233.97 L673.08 234.07 L676.08 234.18 L679.08 234.29 L682.08 234.40 L685.08 234.51 L688.08 234.63 L691.08 234.75 L694.08 234.87 L697.08 234.99 L700.08 235.12 L703.08 235.25 L706.08 235.39 L709.08 235.53 L712.08 235.67 L715.08 235.82 L718.08 235.97 L721.08 236.13 L724.08 236.29 L727.07 236.46 L730.07 236.64 L733.07 236.82 L736.07 237.00 L739.07 237.19 L742.07 237.39 L745.07 237.59 L748.07 237.80 L751.07 238.02 L754.07 238.24 L757.07 238.47 L760.07 238.71 L763.07 238.96 L766.06 239.21 L769.06 239.47 L772.06 239.74 L775.06 240.02 L778.06 240.31 L781.06 240.60 L784.06 240.91 L787.06 241.22 L790.06 241.55" stroke="#8B4513" stroke-width="3.7" stroke-dasharray="14 6.9" stroke-dashoffset="-4.3"/>
</g>
<rect x="177.8" y="428.6" width="311.8" height="233.8" fill="#fff" stroke="#4d4d4d" stroke-width="1"/>
<rect x="188.1" y="433.6" width="24.1" height="23.5" fill="#FF4500"/>
<text x="253.6" y="452.3" font-size="23.4">CoGeNT abs 90%</text>
<rect x="188.1" y="462.2" width="24.1" height="23.5" fill="#B8860B"/>
<text x="253.6" y="480.9" font-size="23.4">CRESST 1</text>
<line x1="188.1" y1="502.6" x2="237.2" y2="502.6" stroke="#2E8B57" stroke-width="3.7"/>
<text x="253.6" y="509.6" font-size="23.4">XENON100 90%</text>
<line x1="188.1" y1="531.2" x2="237.2" y2="531.2" stroke="#6B8E23" stroke-width="3.7" stroke-dasharray="14 6.9"/>
<text x="253.6" y="538.2" font-size="23.4">XENON10<tspan dx="1.2">−</tspan><tspan dx="1.6">S2 90%</tspan></text>
<line x1="188.1" y1="559.8" x2="237.2" y2="559.8" stroke="#000080" stroke-width="3.7" stroke-dasharray="6 7.1"/>
<text x="253.6" y="566.8" font-size="23.4">CDMS Ge low 90%</text>
<line x1="188.1" y1="588.5" x2="237.2" y2="588.5" stroke="#8B4513" stroke-width="3.7" stroke-dasharray="14 6.9"/>
<text x="253.6" y="595.5" font-size="23.4">CDMS Si SUF 90%</text>
<line x1="188.1" y1="617.1" x2="237.2" y2="617.1" stroke="#9932CC" stroke-width="3.7" stroke-dasharray="6 7.1"/>
<text x="253.6" y="624.1" font-size="23.4">CRESST<tspan dx="1.2">−</tspan><tspan dx="1.6">II 90%</tspan></text>
<line x1="188.1" y1="645.7" x2="237.2" y2="645.7" stroke="#4682B4" stroke-width="3.7"/>
<text x="253.6" y="652.7" font-size="23.4">SIMPLE 90%</text>
<text transform="translate(358.6,480.9) scale(1.32,1)" font-size="23.4" font-style="italic" stroke="#fff" stroke-width="0.3">σ</text>
<g stroke="#000" fill="none">
<rect x="149.8" y="52.2" width="631.7" height="631.0" stroke-width="2.7"/>
<path d="M162.6 683.2v-5.8 M162.6 52.2v5.8 M184.2 683.2v-5.8 M184.2 52.2v5.8 M205.9 683.2v-9.4 M205.9 52.2v9.4 M227.6 683.2v-5.8 M227.6 52.2v5.8 M249.2 683.2v-5.8 M249.2 52.2v5.8 M270.9 683.2v-5.8 M270.9 52.2v5.8 M292.5 683.2v-9.4 M292.5 52.2v9.4 M314.1 683.2v-5.8 M314.1 52.2v5.8 M335.8 683.2v-5.8 M335.8 52.2v5.8 M357.4 683.2v-5.8 M357.4 52.2v5.8 M379.1 683.2v-9.4 M379.1 52.2v9.4 M400.8 683.2v-5.8 M400.8 52.2v5.8 M422.4 683.2v-5.8 M422.4 52.2v5.8 M444.0 683.2v-5.8 M444.0 52.2v5.8 M465.7 683.2v-9.4 M465.7 52.2v9.4 M487.4 683.2v-5.8 M487.4 52.2v5.8 M509.0 683.2v-5.8 M509.0 52.2v5.8 M530.6 683.2v-5.8 M530.6 52.2v5.8 M552.3 683.2v-9.4 M552.3 52.2v9.4 M573.9 683.2v-5.8 M573.9 52.2v5.8 M595.6 683.2v-5.8 M595.6 52.2v5.8 M617.2 683.2v-5.8 M617.2 52.2v5.8 M638.9 683.2v-9.4 M638.9 52.2v9.4 M660.5 683.2v-5.8 M660.5 52.2v5.8 M682.2 683.2v-5.8 M682.2 52.2v5.8 M703.9 683.2v-5.8 M703.9 52.2v5.8 M725.5 683.2v-9.4 M725.5 52.2v9.4 M747.1 683.2v-5.8 M747.1 52.2v5.8 M768.8 683.2v-5.8 M768.8 52.2v5.8 M149.8 674.2h9.5 M781.5 674.2h-9.5 M149.8 665.3h9.5 M781.5 665.3h-9.5 M149.8 657.7h9.5 M781.5 657.7h-9.5 M149.8 650.9h9.5 M781.5 650.9h-9.5 M149.8 644.9h9.5 M781.5 644.9h-9.5 M149.8 605.2h9.5 M781.5 605.2h-9.5 M149.8 582.0h9.5 M781.5 582.0h-9.5 M149.8 565.5h9.5 M781.5 565.5h-9.5 M149.8 552.7h9.5 M781.5 552.7h-9.5 M149.8 542.3h9.5 M781.5 542.3h-9.5 M149.8 533.5h9.5 M781.5 533.5h-9.5 M149.8 525.8h9.5 M781.5 525.8h-9.5 M149.8 519.1h9.5 M781.5 519.1h-9.5 M149.8 513.0h9.5 M781.5 513.0h-9.5 M149.8 473.4h9.5 M781.5 473.4h-9.5 M149.8 450.1h9.5 M781.5 450.1h-9.5 M149.8 433.7h9.5 M781.5 433.7h-9.5 M149.8 420.9h9.5 M781.5 420.9h-9.5 M149.8 410.5h9.5 M781.5 410.5h-9.5 M149.8 401.6h9.5 M781.5 401.6h-9.5 M149.8 394.0h9.5 M781.5 394.0h-9.5 M149.8 387.2h9.5 M781.5 387.2h-9.5 M149.8 381.2h9.5 M781.5 381.2h-9.5 M149.8 341.5h9.5 M781.5 341.5h-9.5 M149.8 318.3h9.5 M781.5 318.3h-9.5 M149.8 301.8h9.5 M781.5 301.8h-9.5 M149.8 289.0h9.5 M781.5 289.0h-9.5 M149.8 278.6h9.5 M781.5 278.6h-9.5 M149.8 269.8h9.5 M781.5 269.8h-9.5 M149.8 262.1h9.5 M781.5 262.1h-9.5 M149.8 255.4h9.5 M781.5 255.4h-9.5 M149.8 249.3h9.5 M781.5 249.3h-9.5 M149.8 209.7h9.5 M781.5 209.7h-9.5 M149.8 186.4h9.5 M781.5 186.4h-9.5 M149.8 170.0h9.5 M781.5 170.0h-9.5 M149.8 157.2h9.5 M781.5 157.2h-9.5 M149.8 146.8h9.5 M781.5 146.8h-9.5 M149.8 137.9h9.5 M781.5 137.9h-9.5 M149.8 130.3h9.5 M781.5 130.3h-9.5 M149.8 123.5h9.5 M781.5 123.5h-9.5 M149.8 117.5h9.5 M781.5 117.5h-9.5 M149.8 77.8h9.5 M781.5 77.8h-9.5 M149.8 54.6h9.5 M781.5 54.6h-9.5 " stroke-width="2.4"/>
</g>
<text x="206.5" y="710.8" font-size="23.4" text-anchor="middle">6</text>
<text x="293.1" y="710.8" font-size="23.4" text-anchor="middle">8</text>
<text x="379.7" y="710.8" font-size="23.4" text-anchor="middle">10</text>
<text x="466.3" y="710.8" font-size="23.4" text-anchor="middle">12</text>
<text x="552.9" y="710.8" font-size="23.4" text-anchor="middle">14</text>
<text x="639.5" y="710.8" font-size="23.4" text-anchor="middle">16</text>
<text x="726.1" y="710.8" font-size="23.4" text-anchor="middle">18</text>
<text x="78.5" y="129.2" font-size="29.4">10</text>
<text x="107.3" y="119.2" font-size="21.5">−39</text>
<text x="78.5" y="261.1" font-size="29.4">10</text>
<text x="107.3" y="251.1" font-size="21.5">−40</text>
<text x="78.5" y="392.9" font-size="29.4">10</text>
<text x="107.3" y="382.9" font-size="21.5">−41</text>
<text x="78.5" y="524.8" font-size="29.4">10</text>
<text x="107.3" y="514.8" font-size="21.5">−42</text>
<text x="78.5" y="656.6" font-size="29.4">10</text>
<text x="107.3" y="646.6" font-size="21.5">−43</text>
<text x="390.8" y="763.6" font-size="37.5" font-style="italic">m</text>
<g fill="none" stroke="#000" stroke-linecap="round"><path d="M435.0 758.0L418.3 774.8" stroke-width="1.1"/><path d="M420.9 760.6C421.8 757.6 425.4 757.2 426.7 760.9L430.3 771.8C431.2 774.9 433.6 774.9 434.5 772.4" stroke-width="2.1"/></g>
<text x="445.3" y="763.6" font-size="37.5">[GeV]</text>
<g transform="translate(49.3,434.0) rotate(-90)">
<text transform="translate(-0.5,0) scale(1.36,1)" font-size="37.5" font-style="italic" stroke="#fff" stroke-width="0.55">σ</text>
<text x="24.8" y="5.5" font-size="27" font-style="italic">n</text>
<text x="46.0" y="0" font-size="37.5">[cm</text>
<text x="105.5" y="-15.2" font-size="27">2</text>
<text x="118.6" y="0" font-size="37.5">]</text>
</g>
<text x="613.2" y="654.9" font-size="31.6">SHM</text>
<text x="613.8" y="96.8" font-size="30" font-style="italic">f</text>
<text x="624.5" y="101.8" font-size="21.5" font-style="italic">n</text>
<line x1="637.3" y1="101.4" x2="645.1" y2="76.1" stroke="#000" stroke-width="1.6"/>
<text x="649.6" y="96.8" font-size="30" font-style="italic">f</text>
<text x="660.3" y="101.8" font-size="21.5" font-style="italic">p</text>
<path d="M675.4 85.2H692.5M675.4 92H692.5" stroke="#000" stroke-width="2" fill="none"/>
<text x="694.2" y="96.8" font-size="30">1</text>
</svg>
</body></html>
